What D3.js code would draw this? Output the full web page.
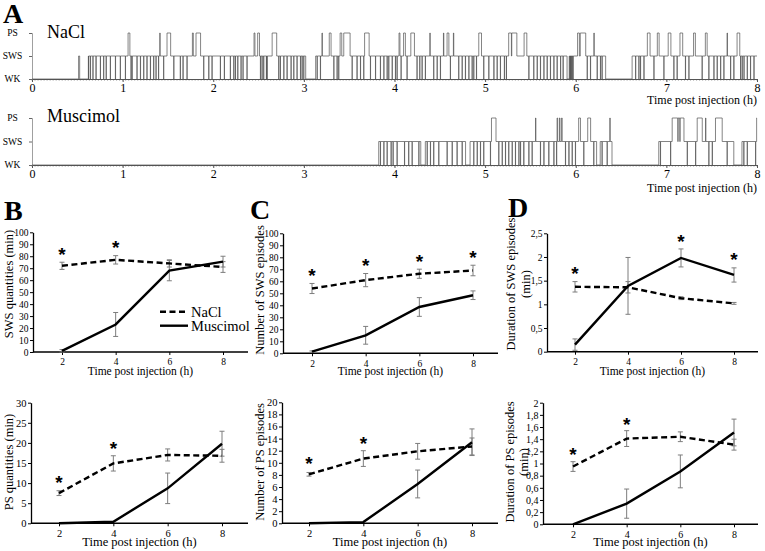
<!DOCTYPE html>
<html><head><meta charset="utf-8">
<script src="https://cdn.jsdelivr.net/npm/d3@7"></script>
<style>
body{margin:0;background:#fff}
svg{display:block}
text{font-family:"Liberation Serif","Times New Roman",serif !important;fill:#000}
text.star{font-family:"Liberation Sans",Arial,sans-serif !important}
</style>
</head><body>
<svg id="chart" width="765" height="551"></svg>
<script>
// ================= DATA =================
// Panel A : hypnograms (time in hours, states WK / SWS / PS)
const hourTicks = [0,1,2,3,4,5,6,7,8];
const stateNames = ["WK","SWS","PS"];

const naclWakeBouts = [[0,0.515],[0.527,0.622],[3.02,3.13],[5.905,5.928],[6.33,6.622]];
const naclPSBouts = [[1.06,1.08],[1.41,1.414],[1.49,1.53],[1.77,1.78],[1.81,1.86],[2.45,2.46],[2.49,2.51],
  [2.65,2.70],[3.20,3.204],[3.28,3.30],[3.40,3.418],[3.44,3.51],[3.67,3.72],[4.05,4.06],[4.10,4.12],
  [4.18,4.22],[4.39,4.394],[4.54,4.544],[4.58,4.60],[4.65,4.654],[4.93,4.96],[5.26,5.29],[5.295,5.35],
  [5.43,5.46],[6.02,6.04],[6.05,6.11],[6.20,6.204],[6.79,6.82],[6.90,6.92],[7.02,7.05],[7.15,7.18],
  [7.30,7.32],[7.43,7.45],[7.67,7.674],[7.78,7.81]];
const naclBriefWakes = [0.625,0.644,0.673,0.706,0.754,0.791,0.820,0.865,0.920,0.975,1.030,1.093,1.104,1.159,
  1.196,1.233,1.269,1.306,1.343,1.369,1.398,1.453,1.564,1.637,1.667,1.711,1.895,1.950,1.987,2.042,2.078,
  2.123,2.189,2.226,2.244,2.270,2.292,2.307,2.329,2.373,2.520,2.539,2.557,2.586,2.594,2.722,2.741,2.778,
  2.815,2.859,2.888,2.925,2.962,2.980,2.998,3.146,3.182,3.256,3.330,3.366,3.385,3.532,3.550,3.587,3.624,
  3.661,3.734,3.790,3.845,3.882,3.918,3.937,3.974,4.010,4.029,4.073,4.139,4.249,4.279,4.305,4.341,4.433,
  4.470,4.507,4.617,4.709,4.746,4.783,4.820,4.857,4.875,4.904,4.985,5.040,5.096,5.132,5.169,5.213,5.235,
  5.482,5.537,5.574,5.611,5.648,5.684,5.721,5.758,5.795,5.832,5.861,5.935,5.942,5.950,5.960,5.971,6.126,
  6.163,6.236,6.273,6.291,6.660,6.696,6.715,6.752,6.862,6.972,7.082,7.119,7.211,7.248,7.358,7.395,7.469,
  7.524,7.561,7.598,7.634,7.708,7.745,7.819,7.837,7.856,7.892,7.929,7.966];

const muscWakeBouts = [[0,3.826],[4.29,4.34],[4.785,4.835],[6.23,6.27],[6.40,6.917],[7.745,7.835]];
const muscPSBouts = [[5.07,5.12],[5.556,5.56],[5.795,5.80],[5.82,5.825],[5.845,5.85],[6.033,6.052],
  [6.133,6.163],[6.376,6.38],[7.064,7.125],[7.13,7.147],[7.152,7.193],[7.34,7.395],[7.432,7.436],
  [7.542,7.616],[7.996,8.0]];
const muscBriefWakes = [3.845,3.882,3.918,3.962,3.985,4.029,4.110,4.157,4.194,4.268,4.360,4.397,4.433,4.489,
  4.544,4.581,4.636,4.691,4.746,4.875,4.912,4.948,4.985,5.059,5.151,5.188,5.224,5.261,5.298,5.335,5.372,
  5.390,5.427,5.482,5.519,5.611,5.648,5.703,5.758,5.788,5.887,5.924,5.960,5.997,6.089,6.199,6.291,6.347,
  6.935,7.046,7.230,7.322,7.469,7.506,7.671,7.855,7.892,7.984];

// Panels B-D : mean ± SEM at 2,4,6,8 h
const timePoints = [2,4,6,8];
const swsQtyNaCl = [72,77,74,71],          swsQtyNaClErr = [3,3.5,3,4.5];
const swsQtyMus  = [1,23,68,75.5],         swsQtyMusErr  = [1,10,8.5,4.5];
const psQtyNaCl  = [7.5,14.9,17,16.8],     psQtyNaClErr  = [0.6,1.9,1.5,1.6];
const psQtyMus   = [0,0.4,8.7,19.8],       psQtyMusErr   = [0,0,3.8,3.1];
const swsNumNaCl = [54,61,66.3,69],        swsNumNaClErr = [4.2,5.5,3.8,4.4];
const swsNumMus  = [1.4,15,38.6,48.4],     swsNumMusErr  = [0.6,7.4,7.8,3.6];
const psNumNaCl  = [8.1,10.7,11.9,12.7],   psNumNaClErr  = [0.3,1.3,1.3,1.4];
const psNumMus   = [0,0.2,6.5,13.4],       psNumMusErr   = [0,0,2.3,2.2];
const swsDurNaCl = [1.37,1.36,1.13,1.02],  swsDurNaClErr = [0.11,0.12,0.03,0.02];
const swsDurMus  = [0.15,1.39,1.98,1.62],  swsDurMusErr  = [0.12,0.6,0.19,0.15];
const psDurNaCl  = [0.95,1.41,1.44,1.31],  psDurNaClErr  = [0.08,0.13,0.08,0.09];
const psDurMus   = [0,0.34,0.87,1.51],     psDurMusErr   = [0,0.24,0.27,0.22];

// significance stars: time point and height (in data units)
const starsB1 = {t:[2,4], v:[85,91]};
const starsB2 = {t:[2,4], v:[11.2,19.7]};
const starsC1 = {t:[2,4,6,8], v:[68.5,77,80.5,83.3]};
const starsC2 = {t:[2,4], v:[10.6,14]};
const starsD1 = {t:[2,6,8], v:[1.75,2.43,2.04]};
const starsD2 = {t:[2,4], v:[1.22,1.715]};

const ticksB1 = d3.range(0,101,10);
const ticksB2 = d3.range(0,31,5);
const ticksC1 = d3.range(0,101,10);
const ticksC2 = d3.range(0,21,2);
const ticksD1 = [0,0.5,1,1.5,2,2.5];
const ticksD2 = [0,0.2,0.4,0.6,0.8,1,1.2,1.4,1.6,1.8,2];

const seriesNames = ["NaCl","Muscimol"];
const xTitle = "Time post injection (h)";

// ================= DRAWING =================
const SERIF = "'Liberation Serif','Times New Roman',serif";
const svg = d3.select("#chart");

// ---------- Panel A ----------
function hypnoPoints(wake, ps, brief){
  const N = 4000, dt = 8/N, pts = [];
  let prev = -1;
  for (let i=0;i<N;i++){
    const t0 = i*dt, tm = t0+dt/2;
    let s = 1;
    if (wake.some(([a,b]) => tm>=a && tm<b)) s = 0;
    else if (ps.some(([a,b]) => t0 < b && t0+dt > a)) s = 2;
    else if (brief.some(b => b>=t0 && b<t0+dt)) s = 0;
    if (s !== prev){ pts.push([t0,s]); prev = s; }
  }
  pts.push([8,prev]);
  return pts;
}

const xA = d3.scaleLinear().domain([0,8]).range([32,757]);

function drawHypno(yPS, yWK, label, labelY, pts, titleY){
  const g = svg.append("g");
  const y = d3.scalePoint().domain([0,1,2]).range([yWK,yPS]);
  // minor ticks
  g.selectAll("line.minor").data(d3.range(0,241)).join("line")
    .attr("x1", d=>xA(d/30)).attr("x2", d=>xA(d/30))
    .attr("y1", yWK).attr("y2", yWK+1.8)
    .attr("stroke","#888").attr("stroke-width",0.6);
  // x axis
  const ax = g.append("g").attr("transform",`translate(0,${yWK})`)
    .call(d3.axisBottom(xA).tickValues(hourTicks).tickSize(3).tickSizeOuter(0).tickFormat(d3.format("d")));
  ax.attr("font-family",SERIF);
  ax.select(".domain").attr("stroke","#555").attr("stroke-width",1);
  ax.selectAll(".tick line").attr("stroke","#555");
  ax.selectAll("text").attr("font-size",12).style("font-family",SERIF).attr("dy",null).attr("y",12.5);
  // y axis
  const ay = g.append("g").attr("transform",`translate(32,0)`)
    .call(d3.axisLeft(y).tickSize(3).tickFormat(""));
  ay.select(".domain").attr("stroke","#888").attr("stroke-width",0.8);
  ay.selectAll(".tick line").attr("stroke","#666");
  g.selectAll("text.st").data([0,1,2]).join("text")
    .attr("x",12.5).attr("y",d=>y(d)+3.3).attr("text-anchor","middle")
    .attr("font-size",9.5).style("font-family",SERIF).text(d=>stateNames[d]);
  // trace
  g.append("path").datum(pts)
    .attr("d", d3.line().x(d=>xA(d[0])).y(d=>y(d[1])).curve(d3.curveStepAfter))
    .attr("fill","none").attr("stroke","#505050").attr("stroke-width",0.7);
  g.append("text").attr("x",47).attr("y",labelY).attr("font-size",18).style("font-family",SERIF).text(label);
  g.append("text").attr("x",757).attr("y",titleY).attr("text-anchor","end").attr("font-size",12)
    .style("font-family",SERIF).text(xTitle);
}

drawHypno(33,79,"NaCl",37.5,hypnoPoints(naclWakeBouts,naclPSBouts,naclBriefWakes),103.5);
drawHypno(118,165,"Muscimol",122,hypnoPoints(muscWakeBouts,muscPSBouts,muscBriefWakes),191.5);

svg.append("text").attr("x",3).attr("y",23).attr("font-size",28).attr("font-weight","bold")
  .style("font-family",SERIF).text("A");

// ---------- Panels B-D ----------
const commaFmt = v => String(+v.toFixed(1)).replace(".",",");

function drawPanel(cfg){
  const g = svg.append("g");
  const x = d3.scaleLinear().domain([2,8]).range([cfg.x2,cfg.x8]);
  const y = d3.scaleLinear().domain([0,cfg.ymax]).range([cfg.bottom,cfg.top]);
  // y axis
  const ay = g.append("g").attr("transform",`translate(${cfg.left},0)`)
    .call(d3.axisLeft(y).tickValues(cfg.ticks).tickSize(3).tickSizeOuter(0).tickFormat(cfg.fmt || d3.format("d")));
  ay.attr("font-family",SERIF);
  ay.select(".domain").attr("stroke","#000").attr("stroke-width",1.3);
  ay.selectAll(".tick line").attr("stroke","#000");
  ay.selectAll("text").attr("font-size",cfg.tfs).style("font-family",SERIF).attr("x",-4.5).attr("dy","0.33em");
  // x axis
  const axg = g.append("g").attr("transform",`translate(0,${cfg.bottom})`);
  axg.append("line").attr("x1",cfg.left).attr("x2",cfg.right).attr("stroke","#000").attr("stroke-width",1.6);
  const ax = axg.append("g").call(d3.axisBottom(x).tickValues(timePoints).tickSize(3).tickFormat(d3.format("d")));
  ax.attr("font-family",SERIF);
  ax.select(".domain").remove();
  ax.selectAll(".tick line").attr("stroke","#000");
  ax.selectAll("text").attr("font-size",cfg.tfs).style("font-family",SERIF).attr("y",6.5);
  g.append("text").attr("x",(cfg.left+cfg.right)/2).attr("y",cfg.xtY).attr("text-anchor","middle")
    .attr("font-size",cfg.xtfs).style("font-family",SERIF).text(xTitle);
  // y title
  cfg.ytitle.forEach((t,i)=>{
    g.append("text").attr("transform",`translate(${cfg.ytX[i]},${cfg.ytC}) rotate(-90)`)
      .attr("text-anchor","middle").attr("font-size",12.5).style("font-family",SERIF).text(t);
  });
  // error bars
  const series = [
    {v:cfg.nacl, e:cfg.naclErr, dash:"6,3.5"},
    {v:cfg.mus,  e:cfg.musErr,  dash:null}
  ];
  series.forEach(s=>{
    const eb = g.append("g");
    timePoints.forEach((t,i)=>{
      if (s.e[i] <= 0) return;
      const xi = x(t), lo = y(s.v[i]-s.e[i]), hi = y(s.v[i]+s.e[i]);
      eb.append("line").attr("x1",xi).attr("x2",xi).attr("y1",lo).attr("y2",hi);
      eb.append("line").attr("x1",xi-2.5).attr("x2",xi+2.5).attr("y1",lo).attr("y2",lo);
      eb.append("line").attr("x1",xi-2.5).attr("x2",xi+2.5).attr("y1",hi).attr("y2",hi);
    });
    eb.selectAll("line").attr("stroke","#7d7d7d").attr("stroke-width",1);
  });
  series.forEach(s=>{
    g.append("path").datum(timePoints.map((t,i)=>[t,s.v[i]]))
      .attr("d", d3.line().x(d=>x(d[0])).y(d=>y(d[1])))
      .attr("fill","none").attr("stroke","#000").attr("stroke-width",2.4)
      .attr("stroke-dasharray", s.dash);
  });
  // stars
  g.selectAll("text.star").data(cfg.stars.t.map((t,i)=>[t,cfg.stars.v[i]])).join("text")
    .attr("class","star")
    .attr("x",d=>x(d[0])).attr("y",d=>y(d[1])+11).attr("text-anchor","middle")
    .attr("font-weight","bold").attr("font-size",19).text("*");
  // panel letter
  if (cfg.letter) svg.append("text").attr("x",cfg.letter[1]).attr("y",cfg.letter[2])
    .attr("font-size",28).attr("font-weight","bold").style("font-family",SERIF).text(cfg.letter[0]);
}

drawPanel({left:33,right:248,x2:62,x8:223,top:232.3,bottom:352,ymax:100,ticks:ticksB1,tfs:9.5,xtfs:11.5,xtY:375,
  ytitle:["SWS quantities (min)"],ytX:[12.5],ytC:284,
  nacl:swsQtyNaCl,naclErr:swsQtyNaClErr,mus:swsQtyMus,musErr:swsQtyMusErr,stars:starsB1,letter:["B",4,220]});
drawPanel({left:31,right:248,x2:59,x8:222,top:402.7,bottom:523.3,ymax:30,ticks:ticksB2,tfs:10.5,xtfs:12.5,xtY:546,
  ytitle:["PS quantities (min)"],ytX:[13],ytC:462,
  nacl:psQtyNaCl,naclErr:psQtyNaClErr,mus:psQtyMus,musErr:psQtyMusErr,stars:starsB2});
drawPanel({left:283,right:498,x2:312,x8:473,top:233.3,bottom:353.3,ymax:100,ticks:ticksC1,tfs:9.5,xtfs:11.5,xtY:375,
  ytitle:["Number of SWS episodes"],ytX:[264],ytC:290,
  nacl:swsNumNaCl,naclErr:swsNumNaClErr,mus:swsNumMus,musErr:swsNumMusErr,stars:starsC1,letter:["C",250,219]});
drawPanel({left:282,right:498,x2:309,x8:472,top:402.3,bottom:523.3,ymax:20,ticks:ticksC2,tfs:10.5,xtfs:12.5,xtY:546,
  ytitle:["Number of PS episodes"],ytX:[264],ytC:462,
  nacl:psNumNaCl,naclErr:psNumNaClErr,mus:psNumMus,musErr:psNumMusErr,stars:starsC2});
drawPanel({left:547,right:758,x2:575,x8:734,top:233.3,bottom:351.7,ymax:2.5,ticks:ticksD1,fmt:commaFmt,tfs:9.5,xtfs:11.5,xtY:375,
  ytitle:["Duration of SWS episodes","(min)"],ytX:[515,530],ytC:284,
  nacl:swsDurNaCl,naclErr:swsDurNaClErr,mus:swsDurMus,musErr:swsDurMusErr,stars:starsD1,letter:["D",508,217]});
drawPanel({left:543,right:758,x2:573,x8:734,top:402.7,bottom:524.3,ymax:2,ticks:ticksD2,fmt:commaFmt,tfs:10,xtfs:12.5,xtY:546,
  ytitle:["Duration of PS episodes","(min)"],ytX:[514,528],ytC:462,
  nacl:psDurNaCl,naclErr:psDurNaClErr,mus:psDurMus,musErr:psDurMusErr,stars:starsD2});

// legend (panel B)
const leg = svg.append("g");
[{n:seriesNames[0],y:311.7,dash:"6,3.5"},{n:seriesNames[1],y:325.7,dash:null}].forEach(d=>{
  leg.append("line").attr("x1",160).attr("x2",188).attr("y1",d.y).attr("y2",d.y)
    .attr("stroke","#000").attr("stroke-width",2.4).attr("stroke-dasharray",d.dash);
  leg.append("text").attr("x",191).attr("y",d.y+5).attr("font-size",14.5).style("font-family",SERIF).text(d.n);
});
</script>
</body></html>
